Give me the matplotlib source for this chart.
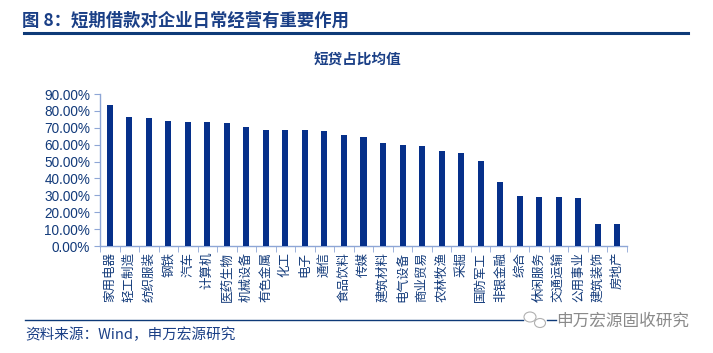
import matplotlib
matplotlib.use("Agg")
import matplotlib.pyplot as plt
from matplotlib.lines import Line2D
from matplotlib.patches import Ellipse

categories = ["家用电器", "轻工制造", "纺织服装", "钢铁", "汽车", "计算机", "医药生物", "机械设备",
              "有色金属", "化工", "电子", "通信", "食品饮料", "传媒", "建筑材料", "电气设备",
              "商业贸易", "农林牧渔", "采掘", "国防军工", "非银金融", "综合", "休闲服务",
              "交通运输", "公用事业", "建筑装饰", "房地产"]
values = [83.3, 76.2, 75.7, 73.8, 73.4, 73.2, 72.6, 70.2, 68.8, 68.6, 68.6, 68.0, 65.7, 64.5,
          61.1, 59.9, 59.5, 56.0, 55.0, 50.4, 37.6, 29.5, 29.1, 29.1, 28.3, 13.0, 12.9]
yticks = [0, 10, 20, 30, 40, 50, 60, 70, 80, 90]
ytick_labels = [f"{v:.2f}%" for v in yticks]

fig_title = "图 8：短期借款对企业日常经营有重要作用"
chart_title = "短贷占比均值"
source = "资料来源：Wind，申万宏源研究"
watermark = "申万宏源固收研究"

CJK = ["Noto Sans CJK SC", "DejaVu Sans"]
LAT = ["Liberation Sans", "Noto Sans CJK SC"]
navy = "#123a7a"
bar_color = "#06308a"
spine_color = "#8ea6d6"

fig = plt.figure(figsize=(7.13, 3.53), dpi=100)
W, H = 713, 353
ax = fig.add_axes([100 / W, 1 - 246 / H, (627 - 100) / W, (246 - 94) / H])

x = list(range(len(categories)))
ax.bar(x, values, width=0.31, color=bar_color, zorder=3)
ax.set_xlim(-0.5, len(categories) - 0.5)
ax.set_ylim(0, 90)

ax.set_yticks(yticks)
ax.set_yticklabels(ytick_labels, family=LAT, fontsize=9.8, color=navy)
ax.set_xticks(x)
ax.set_xticklabels(categories, rotation=90, family=CJK, fontsize=9, color=navy,
                   ha="center", va="top")
ax.set_xticks([i - 0.5 for i in range(len(categories) + 1)], minor=True)
ax.tick_params(axis="x", which="major", length=0, pad=4)
ax.tick_params(axis="x", which="minor", length=4, color=spine_color, direction="out")
ax.tick_params(axis="y", length=4, color=spine_color, direction="out", pad=3)

for s in ["top", "right"]:
    ax.spines[s].set_visible(False)
for s in ["left", "bottom"]:
    ax.spines[s].set_color(spine_color)
    ax.spines[s].set_linewidth(1.0)

# Figure title and rules
fig.text(22 / W, 1 - 21 / H, fig_title, family=CJK, fontsize=12.5, fontweight="bold",
         color="#1a3f86", ha="left", va="center")
fig.add_artist(Line2D([24 / W, 688 / W], [1 - 32.5 / H, 1 - 32.5 / H], color="#0e3a78",
                      linewidth=2.2, transform=fig.transFigure))
fig.text(357 / W, 1 - 60 / H, chart_title, family=CJK, fontsize=10.5, fontweight="bold",
         color="#1a3f86", ha="center", va="center")

# Bottom rule, source and watermark
fig.add_artist(Line2D([25 / W, 523 / W], [1 - 320 / H, 1 - 320 / H], color="#0e3a78",
                      linewidth=1.0, transform=fig.transFigure))
fig.add_artist(Line2D([547 / W, 556 / W], [1 - 320 / H, 1 - 320 / H], color="#0e3a78",
                      linewidth=1.0, transform=fig.transFigure))
fig.add_artist(Ellipse((530 / W, 1 - 317 / H), 12 / W, 10 / H, transform=fig.transFigure,
                       fill=False, edgecolor="#b0b0b0", linewidth=0.8))
fig.add_artist(Ellipse((540 / W, 1 - 323 / H), 11 / W, 9 / H, transform=fig.transFigure,
                       fill=False, edgecolor="#b0b0b0", linewidth=0.8))
fig.text(556 / W, 1 - 321 / H, watermark, family=CJK, fontsize=12, color="#8a8a8a",
         ha="left", va="center")
fig.text(25 / W, 1 - 335 / H, source, family=CJK, fontsize=10.5, color="#1a3f86",
         ha="left", va="center")

fig.savefig("out.png", dpi=100, facecolor="white")
